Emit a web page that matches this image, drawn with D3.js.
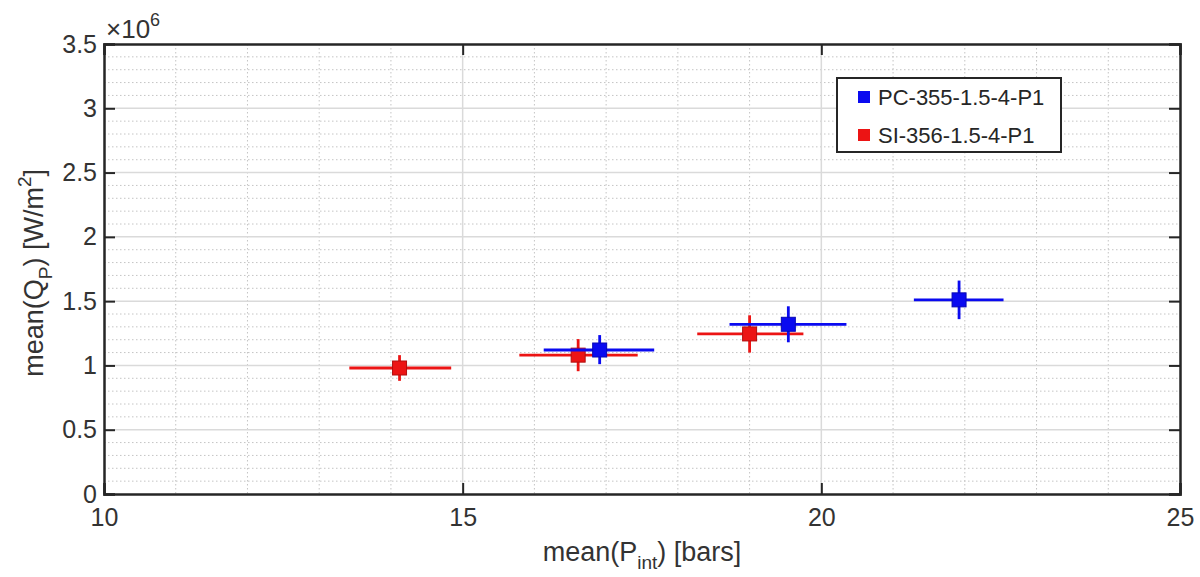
<!DOCTYPE html>
<html><head><meta charset="utf-8">
<script src="https://cdn.jsdelivr.net/npm/d3@7"></script>
<style>body{margin:0;background:#fff;} text{font-family:Arial,"Liberation Sans",sans-serif;}</style>
</head><body><svg id="c" width="1200" height="577"></svg>
<script>
const xTicks = [10, 15, 20, 25];
const yTicks = [0, 0.5e6, 1e6, 1.5e6, 2e6, 2.5e6, 3e6, 3.5e6];
const yTickLabels = ["0", "0.5", "1", "1.5", "2", "2.5", "3", "3.5"];
const seriesNames = ["PC-355-1.5-4-P1", "SI-356-1.5-4-P1"];
const seriesColors = ["#0a0af0", "#ec1414"];
// PC-355 (blue)
const pcX = [16.91, 19.54, 21.92];
const pcY = [1.12e6, 1.32e6, 1.51e6];
const pcXLo = [16.13, 18.72, 21.29];
const pcXHi = [17.67, 20.35, 22.54];
const pcYLo = [1.01e6, 1.18e6, 1.36e6];
const pcYHi = [1.236e6, 1.46e6, 1.66e6];
// SI-356 (red)
const siX = [14.12, 16.61, 19.0];
const siY = [0.98e6, 1.08e6, 1.245e6];
const siXLo = [13.42, 15.79, 18.27];
const siXHi = [14.84, 17.44, 19.75];
const siYLo = [0.88e6, 0.955e6, 1.10e6];
const siYHi = [1.08e6, 1.205e6, 1.39e6];

const L = 104, R = 1180, T = 44, B = 494;
const svg = d3.select("#c");
const x = d3.scaleLinear().domain([10, 25]).range([L, R]);
const y = d3.scaleLinear().domain([0, 3.5e6]).range([B, T]);

// minor grid
const xMinor = d3.range(11, 25, 1).filter(v => v % 5 !== 0);
const yMinor = d3.range(1, 35, 1).filter(v => v % 5 !== 0).map(v => v * 1e5);
const g = svg.append("g");
g.selectAll(".xm").data(xMinor).enter().append("line")
  .attr("x1", d => x(d)).attr("x2", d => x(d)).attr("y1", T).attr("y2", B)
  .attr("stroke", "#c4c4c4").attr("stroke-width", 1).attr("stroke-dasharray", "1.5,2.5");
g.selectAll(".ym").data(yMinor).enter().append("line")
  .attr("x1", L).attr("x2", R).attr("y1", d => y(d)).attr("y2", d => y(d))
  .attr("stroke", "#c4c4c4").attr("stroke-width", 1).attr("stroke-dasharray", "1.5,2.5");
// major grid
g.selectAll(".xg").data(xTicks.slice(1, -1)).enter().append("line")
  .attr("x1", d => x(d)).attr("x2", d => x(d)).attr("y1", T).attr("y2", B)
  .attr("stroke", "#dadada").attr("stroke-width", 1.5);
g.selectAll(".yg").data(yTicks.slice(1, -1)).enter().append("line")
  .attr("x1", L).attr("x2", R).attr("y1", d => y(d)).attr("y2", d => y(d))
  .attr("stroke", "#dadada").attr("stroke-width", 1.5);

// axes
const axColor = "#262626";
const xAxB = svg.append("g").attr("transform", `translate(0,${B})`)
  .call(d3.axisBottom(x).tickValues(xTicks).tickSize(-11).tickPadding(14).tickFormat(d3.format("d")));
const xAxT = svg.append("g").attr("transform", `translate(0,${T})`)
  .call(d3.axisTop(x).tickValues(xTicks).tickSize(-11).tickFormat(""));
const yAxL = svg.append("g").attr("transform", `translate(${L},0)`)
  .call(d3.axisLeft(y).tickValues(yTicks).tickSize(-11).tickPadding(7).tickFormat((d, i) => yTickLabels[i]));
const yAxR = svg.append("g").attr("transform", `translate(${R},0)`)
  .call(d3.axisRight(y).tickValues(yTicks).tickSize(-11).tickFormat(""));
[xAxB, xAxT, yAxL, yAxR].forEach(a => {
  a.select(".domain").attr("stroke", axColor).attr("stroke-width", 2.5);
  a.selectAll(".tick line").attr("stroke", axColor).attr("stroke-width", 2);
  a.selectAll("text").attr("fill", "#333").attr("font-size", 25);
});
xAxB.selectAll(".tick text").attr("dy", "0.71em");

// exponent
const ex = svg.append("text").attr("x", 106).attr("y", 38).attr("fill", "#333").attr("font-size", 26);
ex.append("tspan").text("×10");
ex.append("tspan").attr("font-size", 18).attr("dy", -12).text("6");

// axis titles
const xt = svg.append("text").attr("x", x(17.5)).attr("y", 561).attr("text-anchor", "middle")
  .attr("fill", "#333").attr("font-size", 27);
xt.append("tspan").text("mean(P");
xt.append("tspan").attr("font-size", 19).attr("dy", 8).text("int");
xt.append("tspan").attr("dy", -8).text(") [bars]");

const yt = svg.append("text").attr("transform", `translate(43,${y(1.72e6)}) rotate(-90)`)
  .attr("text-anchor", "middle").attr("fill", "#333").attr("font-size", 27);
yt.append("tspan").text("mean(Q");
yt.append("tspan").attr("font-size", 19).attr("dy", 9).text("P");
yt.append("tspan").attr("dy", -9).text(") [W/m");
yt.append("tspan").attr("font-size", 19).attr("dy", -12).text("2");
yt.append("tspan").attr("dy", 12).text("]");

// data
const series = [
  {c: seriesColors[0], x: pcX, y: pcY, xl: pcXLo, xh: pcXHi, yl: pcYLo, yh: pcYHi},
  {c: seriesColors[1], x: siX, y: siY, xl: siXLo, xh: siXHi, yl: siYLo, yh: siYHi}
];
const ms = 14;
series.slice().reverse().forEach(s => {
  const pts = s.x.map((v, i) => ({x: v, y: s.y[i], xl: s.xl[i], xh: s.xh[i], yl: s.yl[i], yh: s.yh[i]}));
  const gg = svg.append("g");
  gg.selectAll(".eh").data(pts).enter().append("line")
    .attr("x1", d => x(d.xl)).attr("x2", d => x(d.xh)).attr("y1", d => y(d.y)).attr("y2", d => y(d.y))
    .attr("stroke", s.c).attr("stroke-width", 2.8);
  gg.selectAll(".ev").data(pts).enter().append("line")
    .attr("x1", d => x(d.x)).attr("x2", d => x(d.x)).attr("y1", d => y(d.yl)).attr("y2", d => y(d.yh))
    .attr("stroke", s.c).attr("stroke-width", 2.8);
  gg.selectAll("rect").data(pts).enter().append("rect")
    .attr("x", d => x(d.x) - ms / 2).attr("y", d => y(d.y) - ms / 2).attr("width", ms).attr("height", ms)
    .attr("fill", s.c).attr("stroke", d3.color(s.c).darker(0.8)).attr("stroke-width", 1);
});

// legend
const lg = svg.append("g");
lg.append("rect").attr("x", 837).attr("y", 78).attr("width", 224).attr("height", 74)
  .attr("fill", "#fff").attr("stroke", axColor).attr("stroke-width", 2);
seriesNames.forEach((n, i) => {
  const cy = 97 + i * 38;
  lg.append("rect").attr("x", 858).attr("y", cy - 6).attr("width", 12).attr("height", 12).attr("fill", seriesColors[i]);
  lg.append("text").attr("x", 878).attr("y", cy).attr("dy", "0.35em").attr("font-size", 22).attr("fill", "#262626").text(n);
});
</script></body></html>
